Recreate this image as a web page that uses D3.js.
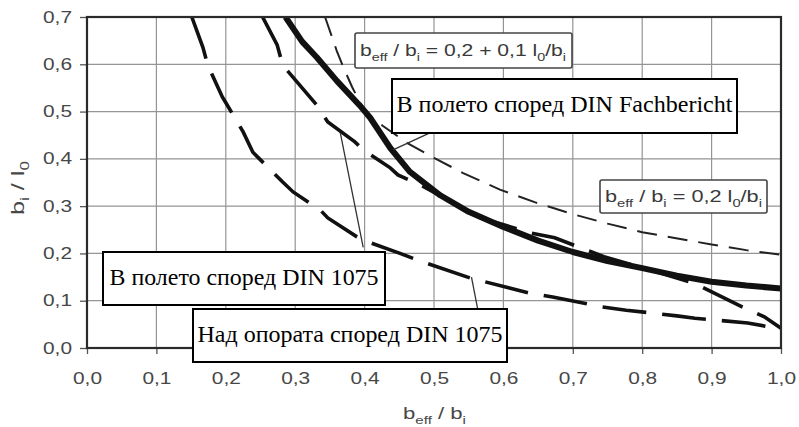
<!DOCTYPE html>
<html>
<head>
<meta charset="utf-8">
<script src="https://cdn.jsdelivr.net/npm/d3@7"></script>
<style>
  body { margin: 0; background: #fff; }
  svg { display: block; }
</style>
</head>
<body>
<div id="chart"></div>
<script>
// axis ticks
const xTicks = [0, 0.1, 0.2, 0.3, 0.4, 0.5, 0.6, 0.7, 0.8, 0.9, 1.0];
const xTickLabels = ['0,0', '0,1', '0,2', '0,3', '0,4', '0,5', '0,6', '0,7', '0,8', '0,9', '1,0'];
const yTicks = [0, 0.1, 0.2, 0.3, 0.4, 0.5, 0.6, 0.7];
const yTickLabels = ['0,0', '0,1', '0,2', '0,3', '0,4', '0,5', '0,6', '0,7'];

// In the field per DIN Fachbericht (thick solid)
const fbX = [0.286, 0.31, 0.331, 0.36, 0.393, 0.408, 0.437, 0.465, 0.509, 0.55, 0.60, 0.65, 0.70, 0.75, 0.80, 0.85, 0.90, 0.95, 1.00];
const fbY = [0.70, 0.648, 0.615, 0.565, 0.513, 0.487, 0.423, 0.373, 0.323, 0.288, 0.256, 0.227, 0.203, 0.184, 0.169, 0.153, 0.140, 0.132, 0.126];

// formula curves b_eff/b_i = 0,2 + 0,1 l0/bi and 0,2 l0/bi (thin dashed)
const formX = [0.343, 0.347, 0.36, 0.369, 0.382, 0.40, 0.427, 0.461, 0.50, 0.542, 0.595, 0.646, 0.70, 0.75, 0.80, 0.857, 0.90, 0.95, 1.00];
const formY = [0.70, 0.683, 0.628, 0.595, 0.552, 0.50, 0.469, 0.434, 0.402, 0.370, 0.335, 0.308, 0.283, 0.263, 0.245, 0.230, 0.219, 0.207, 0.197];

// In the field per DIN 1075 (long dashed)
const fieldX = [0.253, 0.274, 0.282, 0.331, 0.347, 0.386, 0.398, 0.437, 0.448, 0.48, 0.52, 0.568, 0.64, 0.674, 0.745, 0.80, 0.875, 0.944, 0.976, 1.0];
const fieldY = [0.70, 0.641, 0.598, 0.514, 0.478, 0.436, 0.419, 0.381, 0.366, 0.345, 0.313, 0.275, 0.243, 0.233, 0.193, 0.170, 0.137, 0.087, 0.066, 0.042];

// Over the support per DIN 1075 (long dashed)
const supportX = [0.151, 0.167, 0.174, 0.195, 0.202, 0.225, 0.239, 0.282, 0.297, 0.336, 0.347, 0.389, 0.398, 0.451, 0.48, 0.552, 0.638, 0.671, 0.742, 0.777, 0.85, 0.876, 0.952, 1.0];
const supportY = [0.70, 0.636, 0.598, 0.531, 0.514, 0.457, 0.414, 0.351, 0.330, 0.292, 0.275, 0.235, 0.228, 0.200, 0.184, 0.148, 0.116, 0.108, 0.087, 0.080, 0.068, 0.063, 0.053, 0.040];

// leader lines: start (on curve) and end (at label)
const leaderFromX = [0.441, 0.365, 0.554];
const leaderFromY = [0.419, 0.455, 0.150];
const leaderToX = [0.494, 0.398, 0.563];
const leaderToY = [0.455, 0.213, 0.082];

const boxLabels = ['В полето според DIN Fachbericht', 'В полето според DIN 1075', 'Над опората според DIN 1075'];

// **********************
// GRAPH CODE
// **********************
const margin = { top: 17, right: 18, bottom: 79, left: 87 };
const width = 799 - margin.left - margin.right;
const height = 427 - margin.top - margin.bottom;

const root = d3
  .select('#chart')
  .append('svg')
  .attr('width', 799)
  .attr('height', 427);

const svg = root
  .append('g')
  .attr('transform', `translate(${margin.left},${margin.top})`);

const x = d3.scaleLinear().domain([0, 1]).range([0, width]);
const y = d3.scaleLinear().domain([0, 0.7]).range([height, 0]);

svg.append('clipPath').attr('id', 'plot')
  .append('rect').attr('width', width).attr('height', height);

// grid
svg.append('g')
  .selectAll('line')
  .data(xTicks.slice(1, -1))
  .enter()
  .append('line')
  .attr('x1', (d) => x(d)).attr('x2', (d) => x(d))
  .attr('y1', 0).attr('y2', height)
  .attr('stroke', '#959595').attr('stroke-width', 1.2);

svg.append('g')
  .selectAll('line')
  .data(yTicks.slice(1, -1))
  .enter()
  .append('line')
  .attr('y1', (d) => y(d)).attr('y2', (d) => y(d))
  .attr('x1', 0).attr('x2', width)
  .attr('stroke', '#959595').attr('stroke-width', 1.2);

// axes
const tickFont = (g) => {
  g.select('.domain').remove();
  g.selectAll('.tick line').attr('stroke', '#555').attr('stroke-width', 1.3);
  g.selectAll('.tick text')
    .attr('fill', '#474747')
    .style('font-family', '"Liberation Sans", Arial, sans-serif')
    .style('font-size', '16px')
    .attr('textLength', 29)
    .attr('lengthAdjust', 'spacingAndGlyphs');
};

svg.append('g')
  .attr('transform', `translate(0,${height})`)
  .call(d3.axisBottom(x).tickValues(xTicks).tickFormat((d, i) => xTickLabels[i]).tickSize(6).tickPadding(19))
  .call(tickFont);

svg.append('g')
  .call(d3.axisLeft(y).tickValues(yTicks).tickFormat((d, i) => yTickLabels[i]).tickSize(7).tickPadding(8))
  .call(tickFont);

// curves
const line = d3.line().x((d) => x(d[0])).y((d) => y(d[1]));
const curves = svg.append('g').attr('clip-path', 'url(#plot)');

curves.append('path')
  .datum(d3.zip(formX, formY))
  .attr('fill', 'none').attr('stroke', '#222').attr('stroke-width', 2)
  .attr('stroke-dasharray', '20,11')
  .attr('d', line);

curves.append('path')
  .datum(d3.zip(supportX, supportY))
  .attr('fill', 'none').attr('stroke', '#111').attr('stroke-width', 3.6)
  .attr('stroke-dasharray', '44,16')
  .attr('d', line);

curves.append('path')
  .datum(d3.zip(fieldX, fieldY))
  .attr('fill', 'none').attr('stroke', '#111').attr('stroke-width', 3.6)
  .attr('stroke-dasharray', '44,16')
  .attr('d', line);

curves.append('path')
  .datum(d3.zip(fbX, fbY))
  .attr('fill', 'none').attr('stroke', '#111').attr('stroke-width', 6)
  .attr('stroke-linejoin', 'round')
  .attr('d', line);

// leader lines
svg.append('g')
  .selectAll('line')
  .data(leaderFromX.map((d, i) => i))
  .enter()
  .append('line')
  .attr('x1', (i) => x(leaderFromX[i])).attr('y1', (i) => y(leaderFromY[i]))
  .attr('x2', (i) => x(leaderToX[i])).attr('y2', (i) => y(leaderToY[i]))
  .attr('stroke', '#333').attr('stroke-width', 1.3);

// frame
svg.append('rect')
  .attr('width', width).attr('height', height)
  .attr('fill', 'none').attr('stroke', '#2a2a2a').attr('stroke-width', 2.2);

// text with subscripts: parts = [text, isSub]
function subText(g, parts, size) {
  const t = g.append('text')
    .style('font-family', '"Liberation Sans", Arial, sans-serif')
    .style('font-size', `${size}px`)
    .attr('fill', '#3a3a3a');
  let down = false;
  parts.forEach(([s, sub]) => {
    const ts = t.append('tspan').text(s);
    if (sub && !down) { ts.attr('dy', size * 0.3).style('font-size', `${size * 0.68}px`); down = true; }
    else if (sub) { ts.style('font-size', `${size * 0.68}px`); }
    else if (down) { ts.attr('dy', -size * 0.3); down = false; }
  });
  return t;
}

// formula boxes (page coordinates)
const f1 = root.append('g');
f1.append('rect').attr('x', 355).attr('y', 33).attr('width', 217).attr('height', 35)
  .attr('rx', 2).attr('fill', '#fff').attr('stroke', '#444').attr('stroke-width', 1.6);
subText(f1, [['b', 0], ['eff', 1], [' / b', 0], ['i', 1], [' = 0,2 + 0,1 l', 0], ['0', 1], ['/b', 0], ['i', 1]], 17)
  .attr('x', 360).attr('y', 56)
  .attr('textLength', 206).attr('lengthAdjust', 'spacingAndGlyphs');

const f2 = root.append('g');
f2.append('rect').attr('x', 600).attr('y', 180).attr('width', 167).attr('height', 33)
  .attr('rx', 2).attr('fill', '#fff').attr('stroke', '#444').attr('stroke-width', 1.6);
subText(f2, [['b', 0], ['eff', 1], [' / b', 0], ['i', 1], [' = 0,2 l', 0], ['0', 1], ['/b', 0], ['i', 1]], 17)
  .attr('x', 605).attr('y', 202)
  .attr('textLength', 157).attr('lengthAdjust', 'spacingAndGlyphs');

// label boxes
const boxes = [
  { x: 392, y: 79, w: 345, h: 54, tw: 336 },
  { x: 103, y: 252, w: 282, h: 53, tw: 269 },
  { x: 193, y: 309, w: 314, h: 53, tw: 305 },
];
boxes.forEach((b, i) => {
  root.append('rect')
    .attr('x', b.x).attr('y', b.y).attr('width', b.w).attr('height', b.h)
    .attr('fill', '#fff').attr('stroke', '#000').attr('stroke-width', 2);
  root.append('text')
    .attr('x', b.x + b.w / 2).attr('y', b.y + 33)
    .attr('text-anchor', 'middle')
    .style('font-family', '"Liberation Serif", "Times New Roman", serif')
    .style('font-size', '23px')
    .attr('fill', '#000')
    .attr('textLength', b.tw).attr('lengthAdjust', 'spacingAndGlyphs')
    .text(boxLabels[i]);
});

// axis titles
subText(root.append('g'), [['b', 0], ['eff', 1], [' / b', 0], ['i', 1]], 17)
  .attr('x', 403).attr('y', 419)
  .attr('fill', '#474747')
  .attr('textLength', 63).attr('lengthAdjust', 'spacingAndGlyphs');

subText(root.append('g').attr('transform', 'translate(24,188) rotate(-90)'), [['b', 0], ['i', 1], [' / l', 0], ['0', 1]], 18)
  .attr('text-anchor', 'middle')
  .attr('fill', '#474747')
  .attr('textLength', 54).attr('lengthAdjust', 'spacingAndGlyphs');
</script>
</body>
</html>
